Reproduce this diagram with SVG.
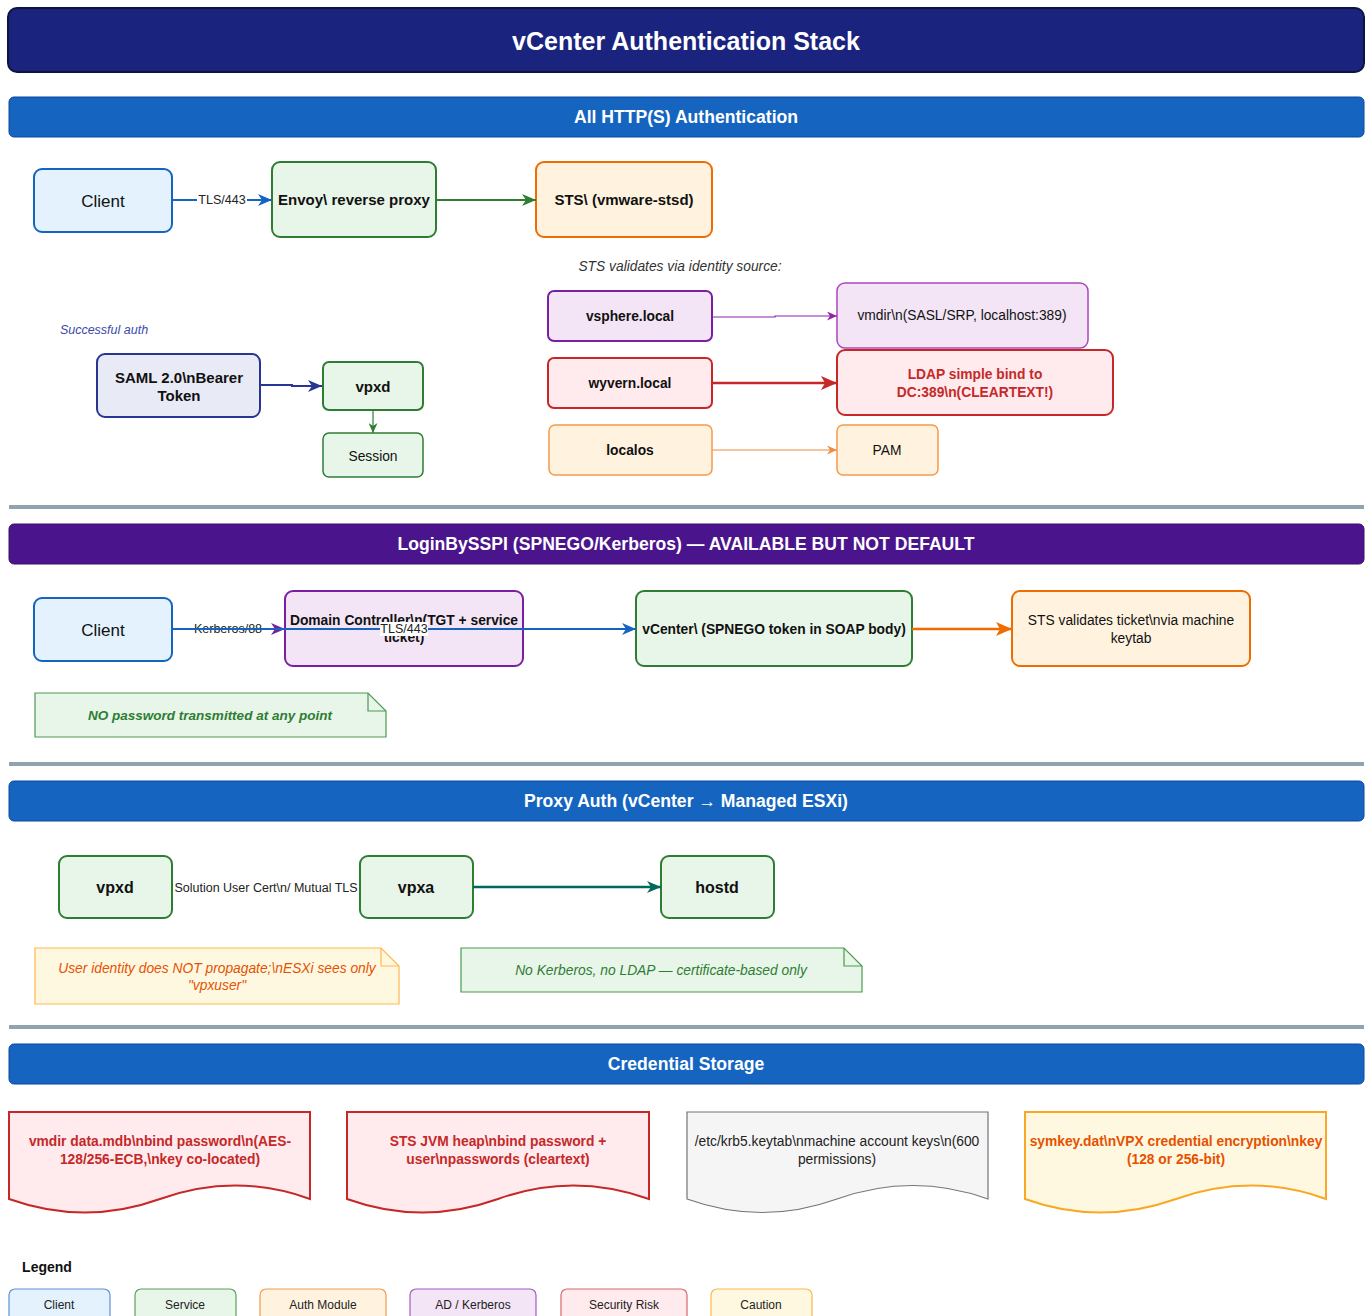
<svg xmlns="http://www.w3.org/2000/svg" width="1369" height="1316" viewBox="0 0 1369 1316">
<style>
text{font-family:"Liberation Sans",Arial,Helvetica,sans-serif;text-anchor:middle;dominant-baseline:central}
.b{font-weight:bold}
.i{font-style:italic}
.hdr{fill:#ffffff;font-weight:bold;font-size:17.6px}
.client{fill:#e3f2fd;stroke:#1565c0;stroke-width:2}
.svc{fill:#e8f5e9;stroke:#2e7d32;stroke-width:2}
.auth{fill:#fff3e0;stroke:#ef6c00;stroke-width:2}
.ad{fill:#f3e5f5;stroke:#7b1fa2;stroke-width:2}
.risk{fill:#ffebee;stroke:#c62828;stroke-width:2}
.sep{stroke:#90a4ae;stroke-width:4}
.lbl{font-size:12.5px;fill:#222}
.n13{font-size:13.8px;fill:#111}
.n14{font-size:15px;fill:#111}
.f14{font-size:13.8px}
.lg{font-size:12px;fill:#222}
</style>
<defs>
<marker id="mBlue" markerUnits="userSpaceOnUse" markerWidth="14" markerHeight="12" refX="14" refY="6" viewBox="0 0 14 12" orient="auto"><path d="M0,0 L14,6 L0,12 L4,6 Z" fill="#1565c0"/></marker>
<marker id="mGreen" markerUnits="userSpaceOnUse" markerWidth="14" markerHeight="12" refX="14" refY="6" viewBox="0 0 14 12" orient="auto"><path d="M0,0 L14,6 L0,12 L4,6 Z" fill="#2e7d32"/></marker>
<marker id="mGreenS" markerUnits="userSpaceOnUse" markerWidth="10" markerHeight="9" refX="10" refY="4.5" viewBox="0 0 10 9" orient="auto"><path d="M0,0 L10,4.5 L0,9 L3,4.5 Z" fill="#2e7d32"/></marker>
<marker id="mPurple" markerUnits="userSpaceOnUse" markerWidth="14" markerHeight="12" refX="14" refY="6" viewBox="0 0 14 12" orient="auto"><path d="M0,0 L14,6 L0,12 L4,6 Z" fill="#7b1fa2"/></marker>
<marker id="mPurpleS" markerUnits="userSpaceOnUse" markerWidth="10" markerHeight="9" refX="10" refY="4.5" viewBox="0 0 10 9" orient="auto"><path d="M0,0 L10,4.5 L0,9 L3,4.5 Z" fill="#8e24aa"/></marker>
<marker id="mRed" markerUnits="userSpaceOnUse" markerWidth="16" markerHeight="14" refX="16" refY="7" viewBox="0 0 16 14" orient="auto"><path d="M0,0 L16,7 L0,14 L4,7 Z" fill="#c62828"/></marker>
<marker id="mOrange" markerUnits="userSpaceOnUse" markerWidth="16" markerHeight="14" refX="16" refY="7" viewBox="0 0 16 14" orient="auto"><path d="M0,0 L16,7 L0,14 L4,7 Z" fill="#ef6c00"/></marker>
<marker id="mOrangeS" markerUnits="userSpaceOnUse" markerWidth="10" markerHeight="9" refX="10" refY="4.5" viewBox="0 0 10 9" orient="auto"><path d="M0,0 L10,4.5 L0,9 L3,4.5 Z" fill="#f08c3c"/></marker>
<marker id="mNavy" markerUnits="userSpaceOnUse" markerWidth="14" markerHeight="12" refX="14" refY="6" viewBox="0 0 14 12" orient="auto"><path d="M0,0 L14,6 L0,12 L4,6 Z" fill="#283593"/></marker>
<marker id="mTeal" markerUnits="userSpaceOnUse" markerWidth="14" markerHeight="12" refX="14" refY="6" viewBox="0 0 14 12" orient="auto"><path d="M0,0 L14,6 L0,12 L4,6 Z" fill="#00695c"/></marker>
</defs>
<rect width="1369" height="1316" fill="#ffffff"/>

<g id="title">
<rect x="8" y="8" width="1356" height="64" rx="9" fill="#1a237e" stroke="#0d1440" stroke-width="2"/>
<text x="686" y="41" class="b" font-size="25" fill="#ffffff">vCenter Authentication Stack</text>
</g>

<g id="headers">
<rect x="9" y="97" width="1355" height="40" rx="5" fill="#1565c0" stroke="#0d47a1" stroke-width="1"/>
<text x="686" y="117" class="hdr">All HTTP(S) Authentication</text>
<rect x="9" y="524" width="1355" height="40" rx="5" fill="#4a148c" stroke="#38106b" stroke-width="1"/>
<text x="686" y="544" class="hdr">LoginBySSPI (SPNEGO/Kerberos) — AVAILABLE BUT NOT DEFAULT</text>
<rect x="9" y="781" width="1355" height="40" rx="5" fill="#1565c0" stroke="#0d47a1" stroke-width="1"/>
<text x="686" y="801" class="hdr">Proxy Auth (vCenter → Managed ESXi)</text>
<rect x="9" y="1044" width="1355" height="40" rx="5" fill="#1565c0" stroke="#0d47a1" stroke-width="1"/>
<text x="686" y="1064" class="hdr">Credential Storage</text>
</g>

<g id="separators">
<line x1="9" y1="507" x2="1364" y2="507" class="sep"/>
<line x1="9" y1="764" x2="1364" y2="764" class="sep"/>
<line x1="9" y1="1027" x2="1364" y2="1027" class="sep"/>
</g>

<!-- Section 1 -->
<g id="http-client"><rect x="34" y="169" width="138" height="63" rx="8" class="client"/><text x="103" y="201" font-size="17" fill="#111">Client</text></g>
<g id="envoy"><rect x="272" y="162" width="164" height="75" rx="8" class="svc"/><text x="354" y="199" class="b n14">Envoy\ reverse proxy</text></g>
<g id="sts"><rect x="536" y="162" width="176" height="75" rx="8" class="auth"/><text x="624" y="199" class="b n14">STS\ (vmware-stsd)</text></g>
<g id="sts-note"><text x="680" y="266" class="i f14" fill="#333">STS validates via identity source:</text></g>
<g id="vsphere-local"><rect x="548" y="291" width="164" height="50" rx="6" class="ad"/><text x="630" y="316" class="b n13">vsphere.local</text></g>
<g id="vmdir"><rect x="837" y="283" width="251" height="65" rx="8" fill="#f3e5f5" stroke="#ab47bc" stroke-width="1.5"/><text x="962" y="315" class="n13">vmdir\n(SASL/SRP, localhost:389)</text></g>
<g id="wyvern-local"><rect x="548" y="358" width="164" height="50" rx="6" class="risk"/><text x="630" y="383" class="b n13">wyvern.local</text></g>
<g id="ldap"><rect x="837" y="350" width="276" height="65" rx="8" class="risk"/><text x="975" y="374" class="b f14" fill="#c62828">LDAP simple bind to</text><text x="975" y="392" class="b f14" fill="#c62828">DC:389\n(CLEARTEXT!)</text></g>
<g id="localos"><rect x="549" y="425" width="163" height="50" rx="6" fill="#fff3e0" stroke="#f59a4a" stroke-width="1.5"/><text x="630" y="450" class="b n13">localos</text></g>
<g id="pam"><rect x="837" y="425" width="101" height="50" rx="6" fill="#fff3e0" stroke="#f59a4a" stroke-width="1.5"/><text x="887" y="450" class="n13">PAM</text></g>
<g id="success-label"><text x="104" y="330" class="i" font-size="12.5" fill="#3949ab">Successful auth</text></g>
<g id="saml"><rect x="97" y="354" width="163" height="63" rx="8" fill="#e8eaf6" stroke="#283593" stroke-width="2"/><text x="179" y="377" class="b n14">SAML 2.0\nBearer</text><text x="179" y="395" class="b n14">Token</text></g>
<g id="vpxd1"><rect x="323" y="362" width="100" height="48" rx="6" class="svc"/><text x="373" y="386" class="b n14">vpxd</text></g>
<g id="session"><rect x="323" y="433" width="100" height="44" rx="6" fill="#e8f5e9" stroke="#2e7d32" stroke-width="1.5"/><text x="373" y="456" class="n13">Session</text></g>

<!-- Section 2 -->
<g id="sspi-client"><rect x="34" y="598" width="138" height="63" rx="8" class="client"/><text x="103" y="630" font-size="17" fill="#111">Client</text></g>
<g id="dc"><rect x="285" y="591" width="238" height="75" rx="8" class="ad"/><text x="404" y="620" class="b n13">Domain Controller\n(TGT + service</text><text x="404" y="637" class="b n13">ticket)</text></g>
<g id="vcenter"><rect x="636" y="591" width="276" height="75" rx="8" class="svc"/><text x="774" y="629" class="b n13">vCenter\ (SPNEGO token in SOAP body)</text></g>
<g id="sts-ticket"><rect x="1012" y="591" width="238" height="75" rx="8" class="auth"/><text x="1131" y="620" class="n13">STS validates ticket\nvia machine</text><text x="1131" y="638" class="n13">keytab</text></g>
<g id="note-nopw"><path d="M35,693 H368 L386,711 V737 H35 Z" fill="#e8f5e9" stroke="#4c9a50" stroke-width="1.2"/><path d="M368,693 V711 H386" fill="none" stroke="#4c9a50" stroke-width="1.2"/><text x="210" y="715" class="i b" font-size="13.5" fill="#2e7d32">NO password transmitted at any point</text></g>

<!-- Section 3 -->
<g id="vpxd2"><rect x="59" y="856" width="113" height="62" rx="8" class="svc"/><text x="115" y="887" class="b" font-size="16" fill="#111">vpxd</text></g>
<g id="vpxa"><rect x="360" y="856" width="113" height="62" rx="8" class="svc"/><text x="416" y="887" class="b" font-size="16" fill="#111">vpxa</text></g>
<g id="hostd"><rect x="661" y="856" width="113" height="62" rx="8" class="svc"/><text x="717" y="887" class="b" font-size="16" fill="#111">hostd</text></g>
<g id="note-vpxuser"><path d="M35,948 H381 L399,966 V1004 H35 Z" fill="#fff8e1" stroke="#ffb74d" stroke-width="1.2"/><path d="M381,948 V966 H399" fill="none" stroke="#ffb74d" stroke-width="1.2"/><text x="217" y="968" class="i f14" fill="#e65100">User identity does NOT propagate;\nESXi sees only</text><text x="217" y="985" class="i f14" fill="#e65100">"vpxuser"</text></g>
<g id="note-cert"><path d="M461,948 H844 L862,966 V992 H461 Z" fill="#e8f5e9" stroke="#4c9a50" stroke-width="1.2"/><path d="M844,948 V966 H862" fill="none" stroke="#4c9a50" stroke-width="1.2"/><text x="661" y="970" class="i f14" fill="#2e7d32">No Kerberos, no LDAP — certificate-based only</text></g>

<!-- Section 4 -->
<g id="doc-vmdir"><path d="M9,1112 H310 V1199 Q235,1172 160,1199 Q85,1226 9,1199 Z" fill="#ffebee" stroke="#c62828" stroke-width="2"/><text x="160" y="1141" class="b f14" fill="#c62828">vmdir data.mdb\nbind password\n(AES-</text><text x="160" y="1159" class="b f14" fill="#c62828">128/256-ECB,\nkey co-located)</text></g>
<g id="doc-sts"><path d="M347,1112 H649 V1199 Q573,1172 498,1199 Q422,1226 347,1199 Z" fill="#ffebee" stroke="#c62828" stroke-width="2"/><text x="498" y="1141" class="b f14" fill="#c62828">STS JVM heap\nbind password +</text><text x="498" y="1159" class="b f14" fill="#c62828">user\npasswords (cleartext)</text></g>
<g id="doc-keytab"><path d="M687,1112 H988 V1199 Q913,1172 837,1199 Q762,1226 687,1199 Z" fill="#f5f5f5" stroke="#757575" stroke-width="1.2"/><text x="837" y="1141" class="f14" fill="#222">/etc/krb5.keytab\nmachine account keys\n(600</text><text x="837" y="1159" class="f14" fill="#222">permissions)</text></g>
<g id="doc-symkey"><path d="M1025,1112 H1326 V1199 Q1251,1172 1176,1199 Q1100,1226 1025,1199 Z" fill="#fff8e1" stroke="#f9a825" stroke-width="2"/><text x="1176" y="1141" class="b f14" fill="#e65100">symkey.dat\nVPX credential encryption\nkey</text><text x="1176" y="1159" class="b f14" fill="#e65100">(128 or 256-bit)</text></g>

<!-- Legend -->
<g id="legend">
<text x="47" y="1267" class="b" font-size="14" fill="#111">Legend</text>
<rect x="9" y="1289" width="101" height="34" rx="6" fill="#e3f2fd" stroke="#5c8fd6" stroke-width="1.2"/><text x="59" y="1305" class="lg">Client</text>
<rect x="135" y="1289" width="101" height="34" rx="6" fill="#e8f5e9" stroke="#5aa05e" stroke-width="1.2"/><text x="185" y="1305" class="lg">Service</text>
<rect x="260" y="1289" width="126" height="34" rx="6" fill="#fff3e0" stroke="#f29a4e" stroke-width="1.2"/><text x="323" y="1305" class="lg">Auth Module</text>
<rect x="410" y="1289" width="126" height="34" rx="6" fill="#f3e5f5" stroke="#a05cc0" stroke-width="1.2"/><text x="473" y="1305" class="lg">AD / Kerberos</text>
<rect x="561" y="1289" width="126" height="34" rx="6" fill="#ffebee" stroke="#d9686a" stroke-width="1.2"/><text x="624" y="1305" class="lg">Security Risk</text>
<rect x="711" y="1289" width="101" height="34" rx="6" fill="#fff8e1" stroke="#f9b94a" stroke-width="1.2"/><text x="761" y="1305" class="lg">Caution</text>
</g>

<g id="connectors" fill="none">
<line x1="172" y1="200" x2="272" y2="200" stroke="#1565c0" stroke-width="2" marker-end="url(#mBlue)"/>
<rect x="197" y="192" width="50" height="16" fill="#ffffff"/>
<text x="222" y="200" class="lbl">TLS/443</text>
<line x1="436" y1="200" x2="536" y2="200" stroke="#2e7d32" stroke-width="2" marker-end="url(#mGreen)"/>
<path d="M712,317 H775 V316 H837" stroke="#8e24aa" stroke-width="1.2" marker-end="url(#mPurpleS)"/>
<line x1="712" y1="383" x2="837" y2="383" stroke="#c62828" stroke-width="2.5" marker-end="url(#mRed)"/>
<line x1="712" y1="450" x2="837" y2="450" stroke="#f08c3c" stroke-width="1.2" marker-end="url(#mOrangeS)"/>
<path d="M260,385 H292 V386 H322" stroke="#283593" stroke-width="2" marker-end="url(#mNavy)"/>
<line x1="373" y1="410" x2="373" y2="433" stroke="#2e7d32" stroke-width="1.2" marker-end="url(#mGreenS)"/>

<line x1="172" y1="629" x2="285" y2="629" stroke="#7b1fa2" stroke-width="2" marker-end="url(#mPurple)"/>
<text x="228" y="629" class="lbl">Kerberos/88</text>
<line x1="172" y1="629" x2="636" y2="629" stroke="#1565c0" stroke-width="2" marker-end="url(#mBlue)"/>
<rect x="380" y="622" width="48" height="14" fill="#ffffff"/>
<text x="404" y="629" class="lbl">TLS/443</text>
<line x1="912" y1="629" x2="1012" y2="629" stroke="#ef6c00" stroke-width="2.5" marker-end="url(#mOrange)"/>

<text x="266" y="888" class="lbl">Solution User Cert\n/ Mutual TLS</text>
<line x1="473" y1="887" x2="661" y2="887" stroke="#00695c" stroke-width="2.5" marker-end="url(#mTeal)"/>
</g>
</svg>
